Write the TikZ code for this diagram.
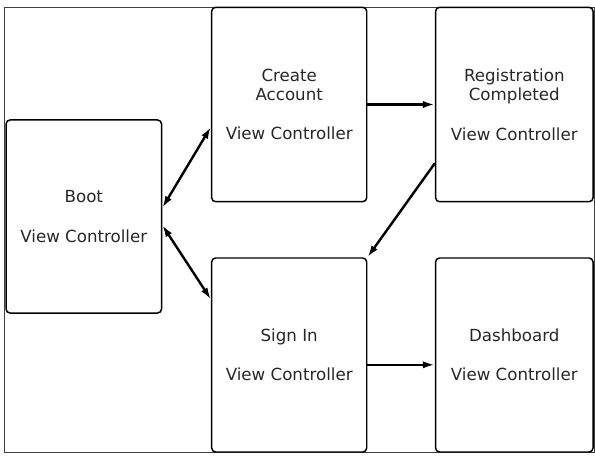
\documentclass[tikz,border=0pt]{standalone}
\usepackage{fontspec}
\setmainfont{DejaVu Sans}
\usetikzlibrary{arrows.meta,calc}

\tikzset{every picture/.style={line width=0.75pt}}
\tikzset{
    vc/.style={draw=black, line width=1.1pt, rounded corners=3pt, inner sep=0pt,
        align=center, text=black!85, font=\fontsize{12.5}{14.5}\selectfont},
    link/.style={draw=black, line width=1.8pt, -{Latex[length=9pt,width=5.5pt]}},
    twoway/.style={link, {Latex[length=9pt,width=5.5pt]}-{Latex[length=9pt,width=5.5pt]}}
}

\begin{document}
\begin{tikzpicture}[
            x=0.75pt,
            y=0.75pt,
            yscale=-1,
            xscale=1,
            line width=0.75pt
        ]
            \useasboundingbox (0,0) rectangle (595,458);
            \draw [black!75, line width=0.6pt] (4,7.5) rectangle (594,452.5) ;

            \node [vc, minimum width=116.6pt, minimum height=144.8pt] (boot) at (83.8,216.5) {Boot\\[15pt]View Controller};
            \node [vc, minimum width=116.3pt, minimum height=145.8pt] (create) at (289.2,104.5) {Create\\Account\\[15pt]View Controller};
            \node [vc, minimum width=118.1pt, minimum height=145.8pt] (reg) at (514.3,104.5) {Registration\\Completed\\[15pt]View Controller};
            \node [vc, minimum width=116.3pt, minimum height=145.5pt] (sign) at (289.2,355) {Sign In\\[15pt]View Controller};
            \node [vc, minimum width=118.1pt, minimum height=145.5pt] (dash) at (514.3,355) {Dashboard\\[15pt]View Controller};

            \draw [twoway] ($(create.north west)!0.614!(create.south west)$) -- ($(boot.north east)!0.456!(boot.south east)$) ;
            \draw [twoway] ($(boot.north east)!0.544!(boot.south east)$) -- ($(sign.north west)!0.216!(sign.south west)$) ;
            \draw [link] (create.east) -- (create.east -| reg.west) ;
            \draw [link] ($(reg.north west)!0.8!(reg.south west)$) -- (sign.north east) ;
            \draw [link] ($(sign.north east)!0.55!(sign.south east)$) -- ($(dash.north west)!0.55!(dash.south west)$) ;
        \end{tikzpicture}
\end{document}
